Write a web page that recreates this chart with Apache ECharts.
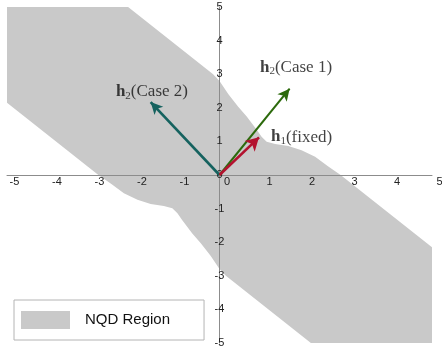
<!DOCTYPE html>
<html>
<head>
<meta charset="utf-8">
<script src="https://cdn.jsdelivr.net/npm/echarts@6/dist/echarts.min.js"></script>
<style>
  html, body { margin: 0; padding: 0; background: #fff; }
  #chart { width: 442px; height: 351px; }
</style>
</head>
<body>
<div id="chart"></div>
<script>
  // NQD region boundary (upper edge left -> right, lower edge right -> left)
  const upperX = [-5, -2.15, -0.15, 0, 0.21, 0.44, 0.64, 0.76, 0.88, 0.99, 1.11, 1.31, 1.62, 1.93, 2.25, 2.56, 2.85, 5]
  const upperY = [5, 5, 3.0, 2.8, 2.4, 2.03, 1.74, 1.54, 1.34, 1.14, 0.99, 0.92, 0.86, 0.74, 0.54, 0.25, 0, -2.15]
  const lowerX = [5, 2.15, 0.15, 0, -0.21, -0.44, -0.64, -0.76, -0.88, -0.99, -1.11, -1.31, -1.62, -1.93, -2.25, -2.56, -2.85, -5]
  const lowerY = [-5, -5, -3.0, -2.8, -2.4, -2.03, -1.74, -1.54, -1.34, -1.14, -0.99, -0.92, -0.86, -0.74, -0.54, -0.25, 0, 2.15]

  // vectors
  const arrowNames = ['h2 (Case 2)', 'h2 (Case 1)', 'h1 (fixed)']
  const arrowX = [-1.62, 1.65, 0.93]
  const arrowY = [2.17, 2.57, 1.12]
  const arrowColors = ['#15625f', '#2c6a0c', '#b3122f']

  // text labels next to the vectors
  const labelX = [-1.59, 1.8, 1.93]
  const labelY = [2.47, 3.21, 1.13]
  const labelSub = ['2', '2', '1']
  const labelRest = ['(Case 2)', '(Case 1)', '(fixed)']

  const regionPts = []
  upperX.forEach((x, i) => regionPts.push([x, upperY[i]]))
  lowerX.forEach((x, i) => regionPts.push([x, lowerY[i]]))

  const chart = echarts.init(document.getElementById('chart'))

  const arrowSeries = arrowX.map((x, i) => ({
    name: arrowNames[i],
    type: 'line',
    data: [],
    z: 5,
    markLine: {
      silent: true,
      symbol: ['none', 'arrow'],
      symbolSize: i === 2 ? [11, 13] : [9, 12],
      label: { show: false },
      lineStyle: { color: arrowColors[i], width: i === 1 ? 2 : 2.6, type: 'solid' },
      emphasis: { disabled: true },
      data: [[{ coord: [0, 0] }, { coord: [x, arrowY[i]] }]],
    },
  }))

  const option = {
    animation: false,
    grid: { left: 7, right: 10, top: 7, bottom: 8, outerBoundsMode: 'none', containLabel: false },
    legend: {
      data: [{ name: 'NQD Region', icon: 'rect' }],
      left: 14,
      top: 300,
      orient: 'vertical',
      itemWidth: 49,
      itemHeight: 18,
      padding: [11, 34, 11, 7],
      backgroundColor: '#fff',
      borderColor: '#b4b4b4',
      borderWidth: 1,
      selectedMode: false,
      textStyle: {
        fontFamily: 'Liberation Sans',
        fontSize: 15,
        color: '#111',
        padding: [0, 0, 0, 10],
      },
    },
    xAxis: {
      type: 'value',
      min: -5,
      max: 5,
      interval: 1,
      position: 'bottom',
      offset: -168, // bring the axis up to y = 0
      z: 3,
      splitLine: { show: false },
      axisTick: { show: false },
      axisLine: { onZero: false, lineStyle: { color: '#8c8c8c', width: 1 } },
      axisLabel: {
        margin: 1,
        color: '#222',
        fontFamily: 'Liberation Sans',
        fontSize: 11,
        padding: [0, 0, 0, 15],
        showMinLabel: true,
        showMaxLabel: true,
      },
    },
    yAxis: {
      type: 'value',
      min: -5,
      max: 5,
      interval: 1,
      position: 'left',
      offset: -212.5, // bring the axis across to x = 0
      z: 3,
      splitLine: { show: false },
      axisTick: { show: false },
      axisLine: { onZero: false, lineStyle: { color: '#8c8c8c', width: 1 } },
      axisLabel: {
        margin: 0,
        align: 'center',
        color: '#222',
        fontFamily: 'Liberation Sans',
        fontSize: 11,
        showMinLabel: true,
        showMaxLabel: true,
      },
    },
    series: [
      {
        name: 'NQD Region',
        type: 'custom',
        z: 1,
        silent: true,
        clip: true,
        itemStyle: { color: '#c9c9c9' },
        data: regionPts,
        renderItem: (params, api) => {
          if (params.dataIndex !== 0) return null
          return {
            type: 'polygon',
            shape: { points: regionPts.map(p => api.coord(p)) },
            style: { fill: '#c9c9c9' },
          }
        },
      },
      ...arrowSeries,
      {
        type: 'scatter',
        symbolSize: 0,
        silent: true,
        z: 6,
        data: labelX.map((x, i) => ({
          value: [x, labelY[i]],
          label: {
            show: true,
            position: 'inside',
            formatter: '{b|h}{s|' + labelSub[i] + '}{t|' + labelRest[i] + '}',
          },
        })),
        label: {
          color: '#111',
          rich: {
            b: { fontFamily: 'Liberation Serif', fontWeight: 'bold', fontSize: 17, color: '#111' },
            s: { fontFamily: 'Liberation Serif', fontSize: 11, color: '#111', padding: [8, 0, 0, 0] },
            t: { fontFamily: 'Liberation Serif', fontSize: 17, color: '#111' },
          },
        },
      },
    ],
  }

  option && chart.setOption(option)
</script>
</body>
</html>
